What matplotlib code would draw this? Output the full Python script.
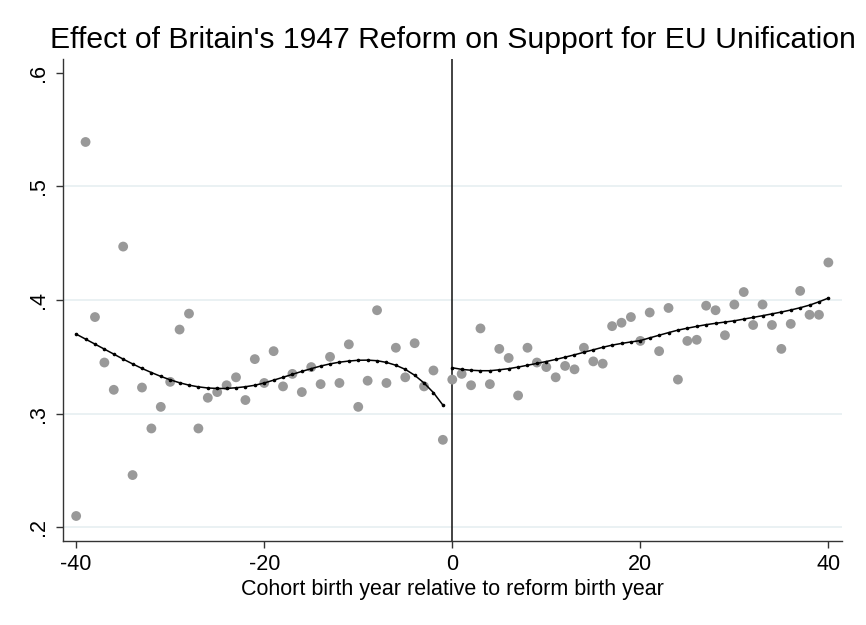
import numpy as np
import matplotlib
matplotlib.use("Agg")
import matplotlib.pyplot as plt

plt.rcParams['font.family'] = ['Liberation Sans', 'DejaVu Sans']
plt.rcParams['axes.unicode_minus'] = False

# cohort means (relative birth year -40 .. 40)
cohort_left = list(range(-40, 0))
support_left = [0.210, 0.539, 0.385, 0.345, 0.321, 0.447, 0.246, 0.323, 0.287, 0.306,
                0.328, 0.374, 0.388, 0.287, 0.314, 0.319, 0.325, 0.332, 0.312, 0.348,
                0.327, 0.355, 0.324, 0.335, 0.319, 0.341, 0.326, 0.350, 0.327, 0.361,
                0.306, 0.329, 0.391, 0.327, 0.358, 0.332, 0.362, 0.324, 0.338, 0.277]
cohort_right = list(range(0, 41))
support_right = [0.330, 0.335, 0.325, 0.375, 0.326, 0.357, 0.349, 0.316, 0.358, 0.345,
                 0.341, 0.332, 0.342, 0.339, 0.358, 0.346, 0.344, 0.377, 0.380, 0.385,
                 0.364, 0.389, 0.355, 0.393, 0.330, 0.364, 0.365, 0.395, 0.391, 0.369,
                 0.396, 0.407, 0.378, 0.396, 0.378, 0.357, 0.379, 0.408, 0.387, 0.387,
                 0.433]

# fitted values
fit_left = [0.3700, 0.3656, 0.3612, 0.3568, 0.3524, 0.3480, 0.3438, 0.3398, 0.3362, 0.3328,
            0.3298, 0.3272, 0.3251, 0.3236, 0.3226, 0.3222, 0.3222, 0.3228, 0.3237, 0.3250,
            0.3270, 0.3295, 0.3320, 0.3346, 0.3372, 0.3396, 0.3419, 0.3438, 0.3453, 0.3463,
            0.3470, 0.3471, 0.3466, 0.3451, 0.3426, 0.3390, 0.3338, 0.3270, 0.3185, 0.3076]
fit_right = [0.3404, 0.3390, 0.3382, 0.3378, 0.3378, 0.3386, 0.3396, 0.3410, 0.3426, 0.3442,
             0.3459, 0.3477, 0.3497, 0.3518, 0.3540, 0.3562, 0.3584, 0.3603, 0.3618, 0.3631,
             0.3643, 0.3667, 0.3690, 0.3713, 0.3735, 0.3752, 0.3768, 0.3783, 0.3795, 0.3806,
             0.3817, 0.3832, 0.3847, 0.3862, 0.3878, 0.3894, 0.3912, 0.3932, 0.3955, 0.3984,
             0.4017]

x_ticks = [-40, -20, 0, 20, 40]
y_ticks = [0.2, 0.3, 0.4, 0.5, 0.6]
y_labels = ['.2', '.3', '.4', '.5', '.6']

fig = plt.figure(figsize=(8.66, 6.25), dpi=100)
ax = fig.add_axes([63 / 866, 1 - 541 / 625, (842 - 63) / 866, (541 - 59) / 625])

# light horizontal grid
for yv in y_ticks[:-1]:
    ax.axhline(yv, color='#e6eff1', lw=1.2, zorder=0)

ax.scatter(cohort_left, support_left, s=50, color='#999999', edgecolors='none', zorder=2)
ax.scatter(cohort_right, support_right, s=50, color='#999999', edgecolors='none', zorder=2)

for xs, ys in ((cohort_left, fit_left), (cohort_right, fit_right)):
    ax.plot(xs, ys, color='black', lw=1.1, marker='o', ms=1.6, zorder=3)

ax.axvline(0, color='#222222', lw=1.2, zorder=1)

ax.set_xlim(-41.4, 41.45)
ax.set_ylim(0.188, 0.612)
ax.set_xticks(x_ticks)
ax.set_xticklabels([str(v) for v in x_ticks])
ax.set_yticks(y_ticks)
ax.set_yticklabels(y_labels, rotation=90, va='center')

for side in ('top', 'right'):
    ax.spines[side].set_visible(False)
for side in ('left', 'bottom'):
    ax.spines[side].set_color('#333333')
    ax.spines[side].set_linewidth(1.0)
ax.tick_params(axis='both', direction='out', length=5, width=1.0,
               color='#333333', labelsize=15.5, labelcolor='black')
ax.tick_params(axis='x', pad=4)
ax.tick_params(axis='y', pad=5)

ax.set_xlabel('Cohort birth year relative to reform birth year', fontsize=15.5, labelpad=3)
fig.text(452.5 / 866, 1 - 48 / 625, "Effect of Britain's 1947 Reform on Support for EU Unification",
         ha='center', va='baseline', fontsize=21.7)

fig.savefig('out.png', dpi=100, facecolor='white')
